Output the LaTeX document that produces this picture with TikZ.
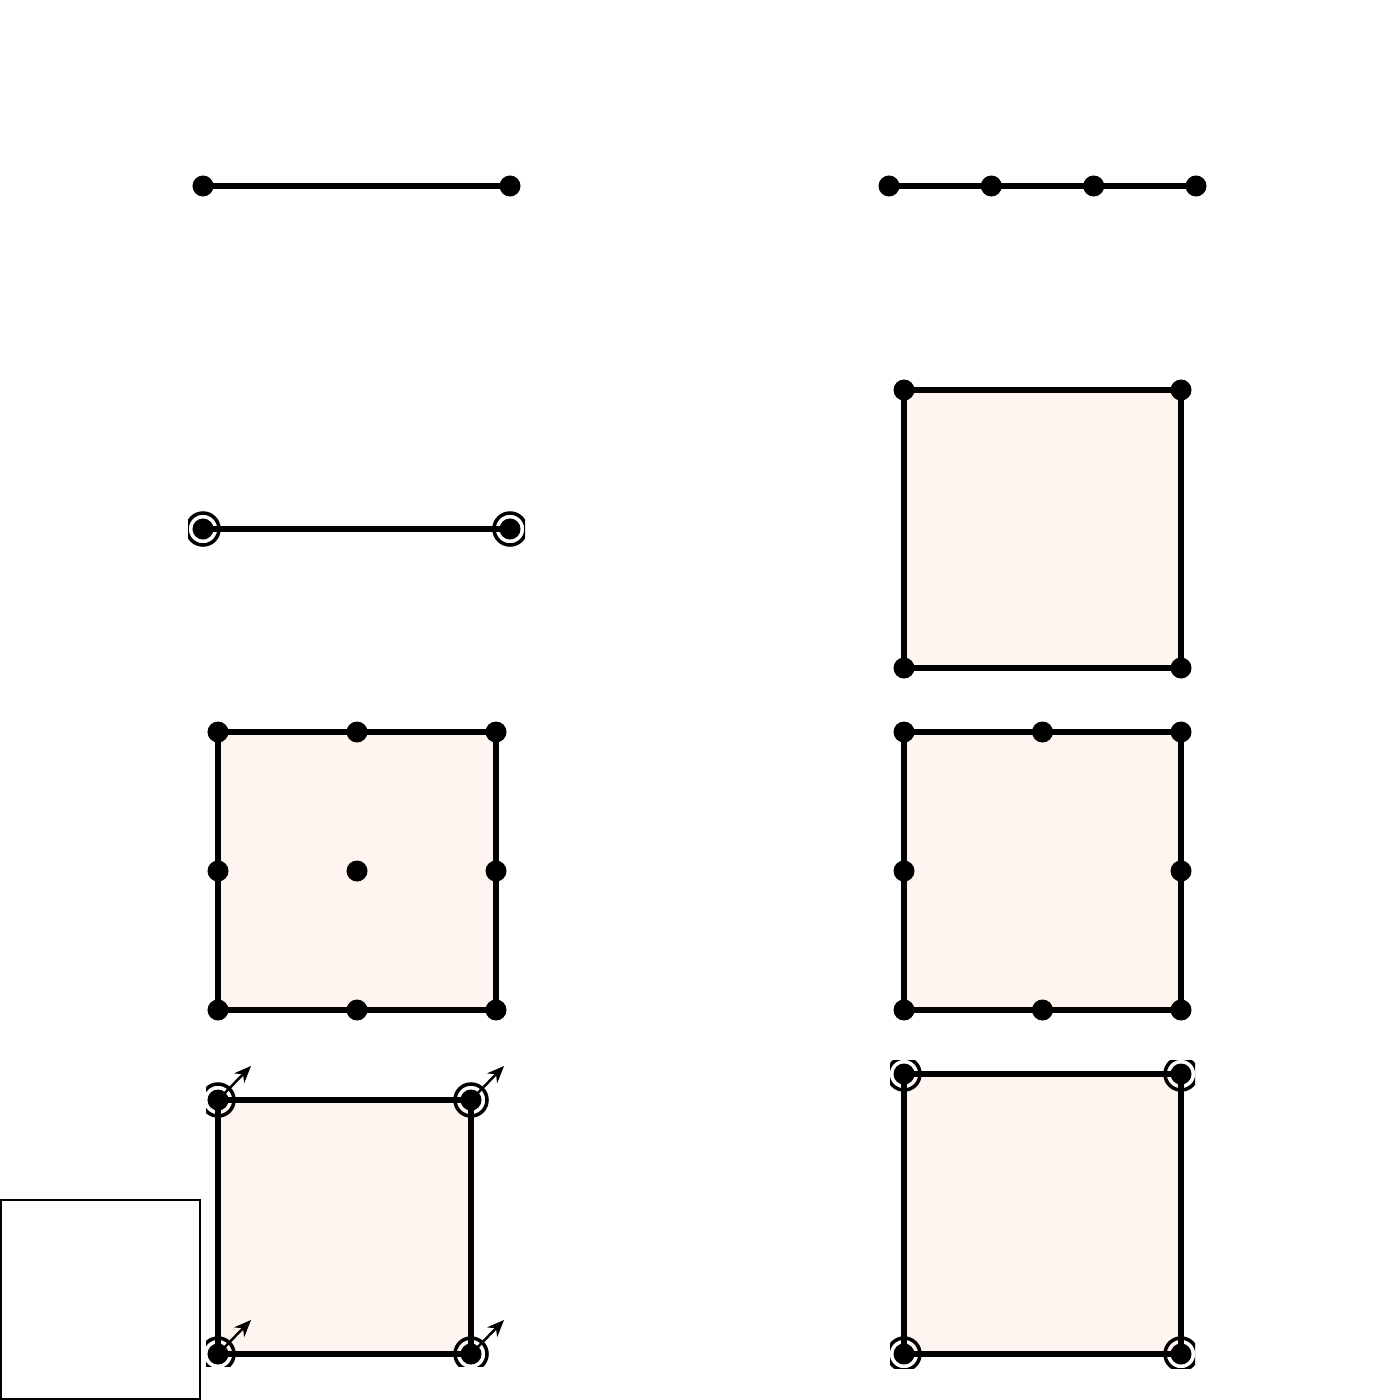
\documentclass[tikz,border=0pt]{standalone}
\usetikzlibrary{arrows.meta,calc}
\definecolor{elemfill}{RGB}{255,245,240}
\tikzset{
  px/.style={x=0.01cm,y=-0.01cm},
  edge/.style={line width=1.45pt,line cap=round},
  elem/.style={edge,fill=elemfill},
  dof/.style={circle,fill=black,inner sep=0pt,minimum size=0.21cm},
  ring/.style={circle,draw=black,line width=1pt,inner sep=0pt,minimum size=0.32cm},
  dirarrow/.style={line width=0.7pt,-{Stealth[length=0.17cm,width=0.14cm]}},
  legendbox/.style={draw=black,fill=white,line width=0.6pt}
}
\begin{document}
\begin{tikzpicture}[px]
\useasboundingbox (0,0) rectangle (1400,1400);
% 1: top-left line element
\coordinate (A1) at (203,186); \coordinate (A2) at (510,186);
\draw[edge] (A1) -- (A2);
\node[dof] at (A1) {}; \node[dof] at (A2) {};
% 2: top-right line element with 4 nodes
\coordinate (B1) at (889,186); \coordinate (B4) at (1196,186);
\coordinate (B2) at (991.3,186); \coordinate (B3) at (1093.7,186);
\draw[edge] (B1) -- (B4);
\foreach \p in {B1,B2,B3,B4} \node[dof] at (\p) {};
% 3: line element with circled nodes
\begin{scope}
\clip (188,500) rectangle (525,560);
\coordinate (C1) at (203,529); \coordinate (C2) at (510,529);
\draw[edge] (C1) -- (C2);
\foreach \p in {C1,C2} {\node[dof] at (\p) {}; \node[ring] at (\p) {};}
\end{scope}
% 4: right square, 4 nodes
\coordinate (D1) at (904,390); \coordinate (D2) at (1181,390);
\coordinate (D3) at (1181,668); \coordinate (D4) at (904,668);
\draw[elem] (D1) -- (D2) -- (D3) -- (D4) -- cycle;
\foreach \p in {D1,D2,D3,D4} \node[dof] at (\p) {};
% 5: middle-left square, 9 nodes
\coordinate (E1) at (218,732); \coordinate (E3) at (496,732);
\coordinate (E9) at (496,1010); \coordinate (E7) at (218,1010);
\draw[elem] (E1) -- (E3) -- (E9) -- (E7) -- cycle;
\foreach \x in {218,357,496} \foreach \y in {732,871,1010} \node[dof] at (\x,\y) {};
% 6: middle-right square, 8 nodes
\coordinate (F1) at (904,732); \coordinate (F3) at (1181,732);
\coordinate (F9) at (1181,1010); \coordinate (F7) at (904,1010);
\draw[elem] (F1) -- (F3) -- (F9) -- (F7) -- cycle;
\foreach \x in {904,1042.5,1181} \foreach \y in {732,1010} \node[dof] at (\x,\y) {};
\foreach \x in {904,1181} \node[dof] at (\x,871) {};
% 7: bottom-left square with circled nodes and arrows
\begin{scope}
\clip (206,1040) rectangle (530,1366);
\coordinate (G1) at (218,1100); \coordinate (G2) at (471,1100);
\coordinate (G3) at (471,1354); \coordinate (G4) at (218,1354);
\draw[elem] (G1) -- (G2) -- (G3) -- (G4) -- cycle;
\foreach \p in {G1,G2,G3,G4} {
  \node[dof] at (\p) {}; \node[ring] at (\p) {};
  \coordinate (t\p) at ($(\p)+(33,-34)$);
  \draw[dirarrow] (\p) -- (t\p);
}
\end{scope}
% 8: bottom-right square with circled nodes
\begin{scope}
\clip (890,1060) rectangle (1195,1368);
\coordinate (H1) at (904,1074); \coordinate (H2) at (1181,1074);
\coordinate (H3) at (1181,1354); \coordinate (H4) at (904,1354);
\draw[elem] (H1) -- (H2) -- (H3) -- (H4) -- cycle;
\foreach \p in {H1,H2,H3,H4} {\node[dof] at (\p) {}; \node[ring] at (\p) {};}
\end{scope}
% legend placeholder box
\draw[legendbox] (1,1200) rectangle (200,1399);
\end{tikzpicture}
\end{document}
